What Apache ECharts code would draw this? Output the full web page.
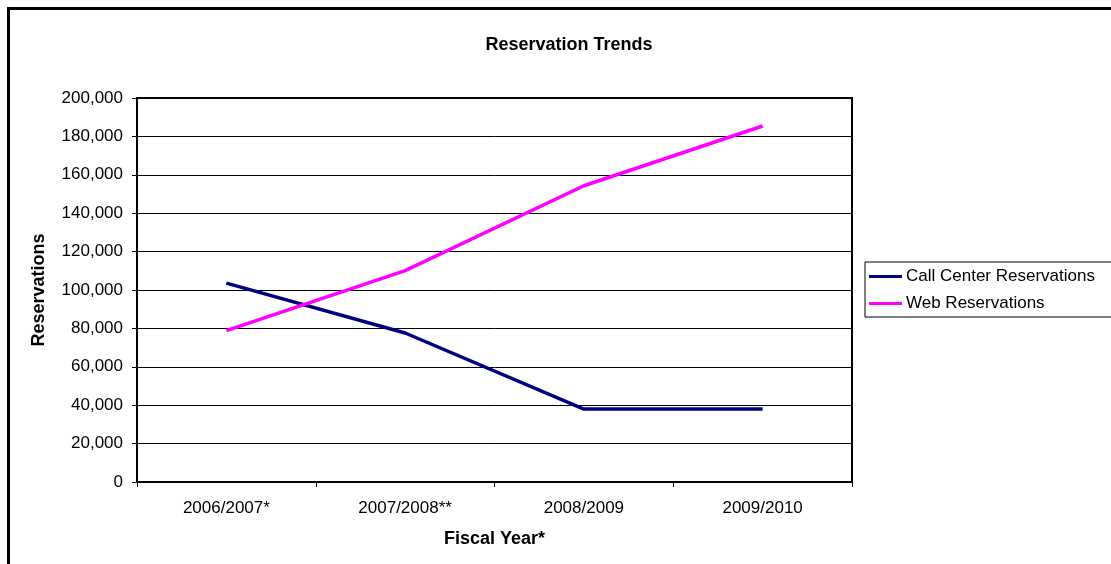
<!DOCTYPE html>
<html><head><meta charset="utf-8">
<script src="https://cdn.jsdelivr.net/npm/echarts@6/dist/echarts.min.js"></script>
<style>html,body{margin:0;padding:0;background:#fff}#c{width:1111px;height:564px}</style>
</head><body><div id="c"></div>
<script>
const categories = ['2006/2007*', '2007/2008**', '2008/2009', '2009/2010'];
const callCenter = [103600, 77600, 38000, 38000];
const web = [78800, 110100, 154300, 185400];
const yTicks = {min: 0, max: 200000, interval: 20000};

const FONT = 'Liberation Sans, Arial, sans-serif';
const chart = echarts.init(document.getElementById('c'), null, {renderer: 'canvas'});
chart.setOption({
  animation: false,
  backgroundColor: '#fff',
  title: {
    text: 'Reservation Trends', left: 564, top: 31, textAlign: 'center',
    textStyle: {fontFamily: FONT, fontSize: 18, fontWeight: 'bold', color: '#000'}
  },
  graphic: [{
    type: 'rect', shape: {x: 8.5, y: 8.5, width: 1300, height: 800},
    style: {fill: 'none', stroke: '#000', lineWidth: 3}, silent: true, z: 100
  }],
  grid: {left: 137, top: 98, right: 259, bottom: 82, show: true, borderColor: '#000', borderWidth: 2, backgroundColor: 'transparent'},
  legend: {
    orient: 'vertical', left: 865, top: 262, icon: 'rect', itemWidth: 33, itemHeight: 3,
    itemGap: 10, padding: [6, 20, 5, 4], borderColor: '#000', borderWidth: 1,
    textStyle: {fontFamily: FONT, fontSize: 17, color: '#000', padding: [0, 0, 0, -1]},
    data: ['Call Center Reservations', 'Web Reservations']
  },
  xAxis: {
    type: 'category', data: categories, boundaryGap: true,
    name: 'Fiscal Year*', nameLocation: 'middle', nameGap: 48,
    nameTextStyle: {fontFamily: FONT, fontSize: 18, fontWeight: 'bold', color: '#000'},
    axisLine: {lineStyle: {color: '#000', width: 2}},
    axisTick: {show: true, length: 5, lineStyle: {color: '#000', width: 1}, alignWithLabel: false},
    axisLabel: {fontFamily: FONT, fontSize: 17, color: '#000', margin: 18, interval: 0},
    splitLine: {show: false}
  },
  yAxis: {
    type: 'value', min: yTicks.min, max: yTicks.max, interval: yTicks.interval,
    name: 'Reservations', nameLocation: 'middle', nameGap: 89, nameRotate: 90,
    nameTextStyle: {fontFamily: FONT, fontSize: 18, fontWeight: 'bold', color: '#000'},
    axisLine: {show: true, lineStyle: {color: '#000', width: 2}},
    axisTick: {show: true, length: 5, lineStyle: {color: '#000', width: 1}},
    axisLabel: {fontFamily: FONT, fontSize: 17, color: '#000', margin: 14,
      formatter: v => v.toLocaleString('en-US')},
    splitLine: {show: true, lineStyle: {color: '#000', width: 1}}
  },
  series: [
    {name: 'Call Center Reservations', type: 'line', data: callCenter, symbol: 'none',
     lineStyle: {color: '#000080', width: 3.5}, itemStyle: {color: '#000080'}},
    {name: 'Web Reservations', type: 'line', data: web, symbol: 'none',
     lineStyle: {color: '#FF00FF', width: 3.5}, itemStyle: {color: '#FF00FF'}}
  ]
});
</script></body></html>
